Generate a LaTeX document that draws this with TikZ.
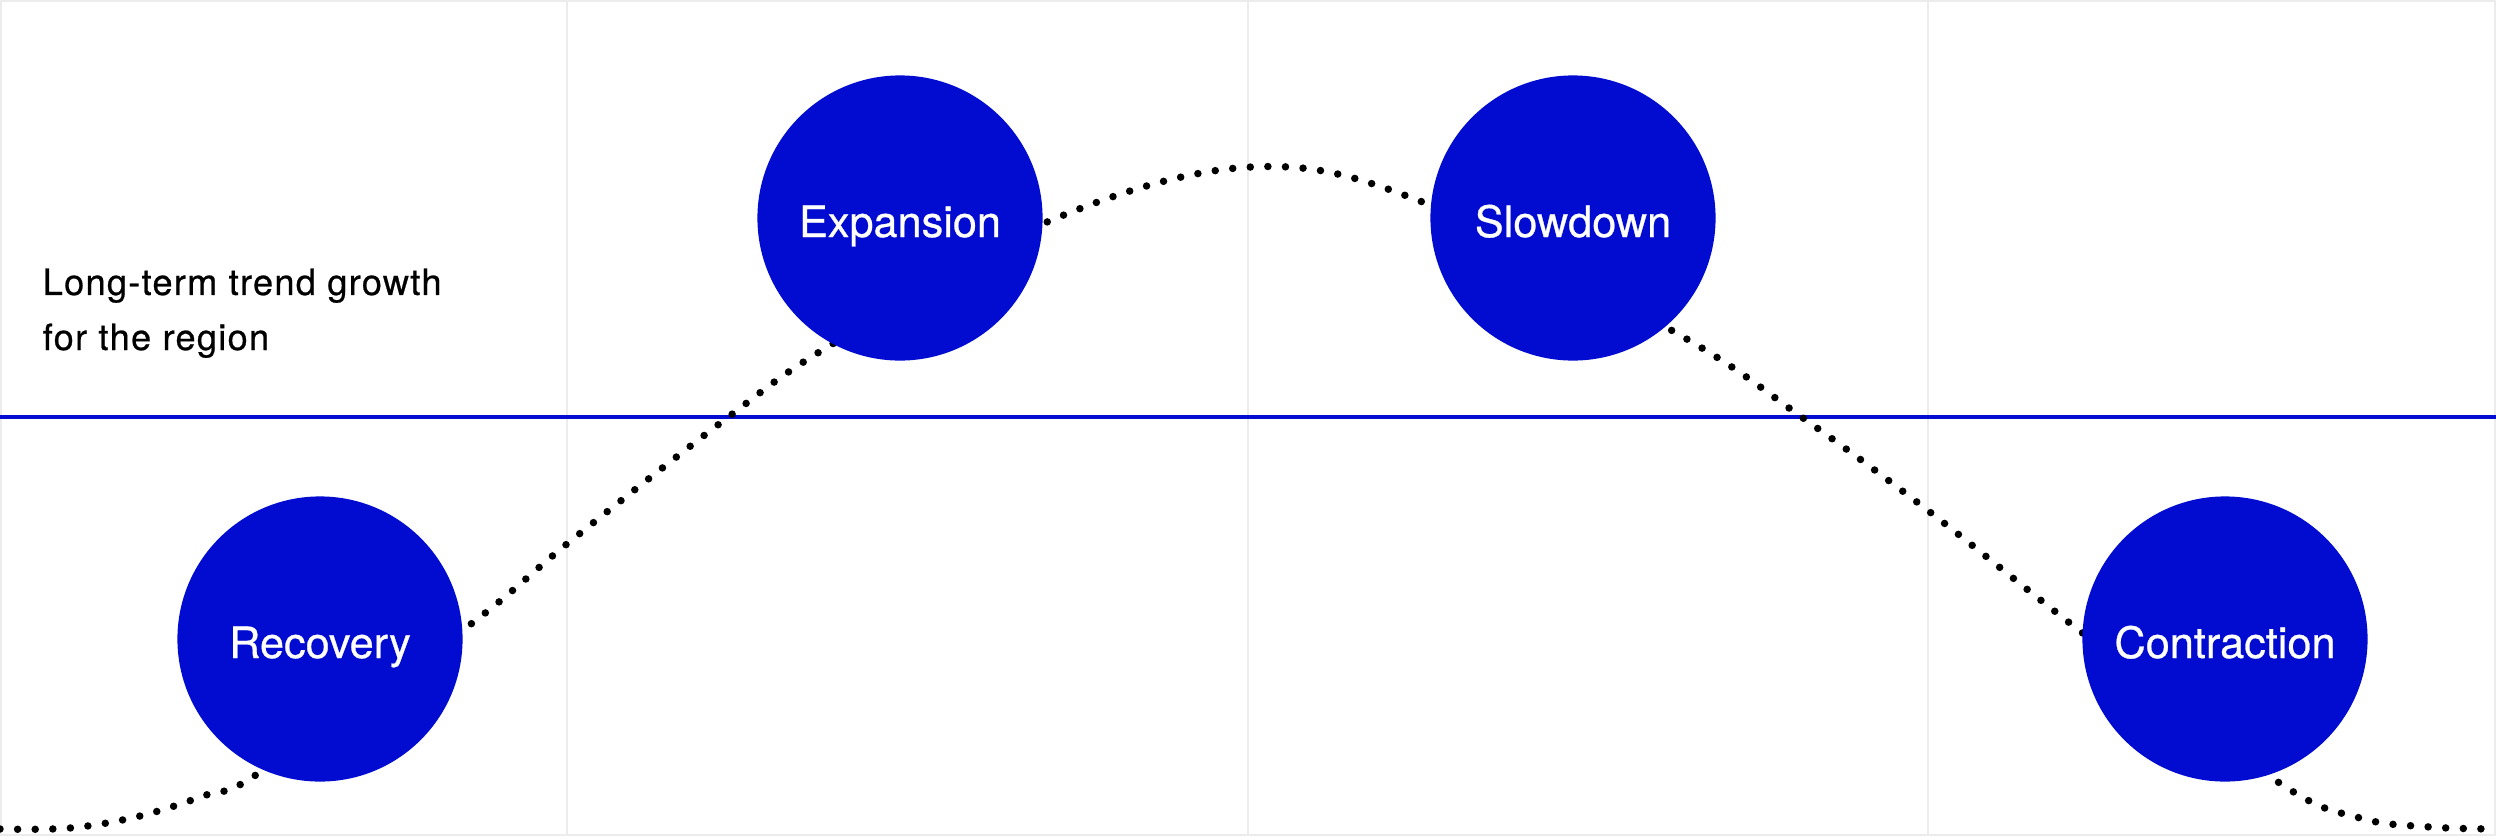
\documentclass[tikz,border=0pt]{standalone}
\usepackage{fontspec}
\setmainfont[FakeBold=0.6]{TeX Gyre Heros}
\newfontfamily\notefont[LetterSpace=3.5,FakeBold=0.6]{TeX Gyre Heros}
\definecolor{phaseblue}{RGB}{2,12,208}
\definecolor{gridgray}{RGB}{236,236,236}

\begin{document}
\begin{tikzpicture}[x=0.01cm,y=-0.01cm,
  phase/.style={circle,fill=phaseblue,minimum size=2.85cm,inner sep=0pt,text=white,
    font=\fontsize{12.3}{14}\selectfont,text height=0.38cm,text depth=0pt},
  gridline/.style={gridgray,line width=0.02cm},
  trend/.style={phaseblue,line width=0.04cm},
  cycle/.style={line width=0.075cm,line cap=round,dash pattern=on 0pt off 0.176cm}]
\useasboundingbox (0,0) rectangle (2496,836);
\def\ytop{0}
\def\ybot{836}

\draw[gridline] (1,1) rectangle (2495,835);
\foreach \x in {567,1248,1928}
  \draw[gridline] (\x,\ytop) -- (\x,\ybot);

\coordinate (trendL) at (0,417);
\coordinate (trendR) at (2496,417);
\draw[trend] (trendL) -- (trendR);

\draw[cycle] plot[smooth,tension=0.6] coordinates {(0,829) (70,828) (140,816) (209,794)
  (259,773) (463,630) (573,539) (727,418) (829,346) (1047,222) (1251,167) (1425,203)
  (1678,334) (1803,418) (1926,509) (2080,631) (2278,782) (2360,818) (2430,827) (2496,829)};

\node[phase] (rec) at (320,639) {Recovery};
\node[phase] (exp) at (900,218) {Expansion};
\node[phase] (slow) at (1573,218) {Slowdown};
\node[phase] (con) at (2225,639) {Contraction};

\node[anchor=base west,align=left,inner sep=0pt,font=\notefont\fontsize{10.3}{15.65}\selectfont]
  (note) at (42,350) {Long-term trend growth\\for the region};
\end{tikzpicture}
\end{document}
